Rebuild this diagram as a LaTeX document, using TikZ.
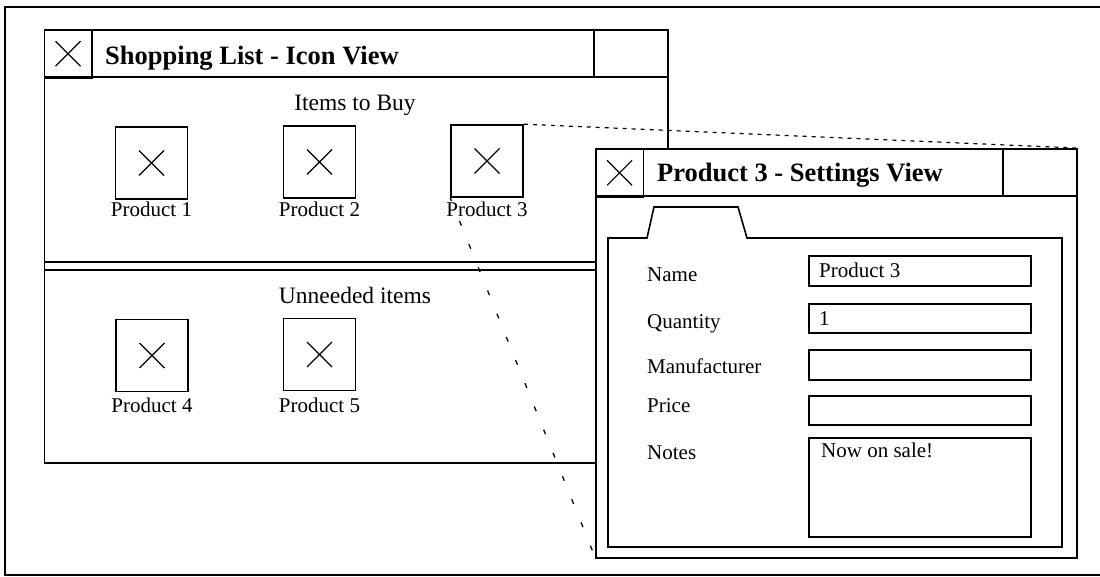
\documentclass[tikz,border=0pt]{standalone}
\usepackage{fontspec}
\setmainfont{Liberation Serif}
\begin{document}
\begin{tikzpicture}[x=1pt,y=-1pt,
  ln/.style={line width=1.6pt},
  xmark/.style={path picture={
      \draw[line width=1.2pt]
        ([shift={(-12.5pt,-12.5pt)}]path picture bounding box.center) -- ++(25pt,25pt)
        ([shift={(-12.5pt,12.5pt)}]path picture bounding box.center) -- ++(25pt,-25pt);}},
  icon/.style={draw, ln, fill=white, minimum width=72pt, minimum height=72pt, inner sep=0pt, xmark},
  closebox/.style={draw, ln, minimum width=47.5pt, minimum height=48pt, inner sep=0pt, anchor=north west, xmark},
  wintitle/.style={font=\fontsize{26.5}{30}\selectfont\bfseries, anchor=base west, inner sep=0pt},
  heading/.style={font=\fontsize{23.5}{27}\selectfont, anchor=base, inner sep=0pt},
  txt/.style={font=\fontsize{21}{25}\selectfont, inner sep=0pt},
  iconlabel/.style={txt, anchor=base, fill=white, inner sep=1pt},
  fieldlabel/.style={txt, anchor=base west},
  field/.style={draw, ln, minimum width=222pt, inner sep=0pt, anchor=north west},
  zoomline/.style={line width=1.2pt, dash pattern=on 4pt off 5pt},
  zoomline2/.style={line width=1.3pt, dash pattern=on 5pt off 20pt}
]
\useasboundingbox (0,0) rectangle (1100,577);

% page frame (open on the right)
\draw[line width=2.5pt] (1100,7) -- (5,7) -- (5,575) -- (1100,575);

% ---------- Shopping list window ----------
\node[draw, ln, fill=white, minimum width=623.5pt, minimum height=433pt,
      inner sep=0pt, anchor=north west] (shop) at (43.5,29) {};
\draw[ln] (43.5,77) -- (667,77);
\draw[ln] (594,29) -- (594,77);
\node[closebox] (shopclose) at (43.5,29) {};
\node[wintitle] (shoptitle) at (105,65) {Shopping List - Icon View};

% splitter between the two sections
\draw[ln] (43.5,262) -- (667,262);
\draw[ln] (43.5,270) -- (667,270);

\node[heading] (buy) at (355,111) {Items to Buy};
\node[heading] (unneeded) at (355,303) {Unneeded items};

\node[icon] (p1) at (151.5,163) {};
\node[icon] (p2) at (319.5,162) {};
\node[icon] (p3) at (487,161) {};
\node[icon] (p4) at (152,355.5) {};
\node[icon] (p5) at (319.5,354.5) {};

% zoom lines from the selected product to its settings window
\coordinate (setNW) at (595,148);
\coordinate (setNE) at (1076,148);
\coordinate (setSW) at (595,557);
\draw[zoomline] (p3.north east) -- (setNE);
\draw[zoomline2] (p3.south west) -- (setSW);

\node[iconlabel] (l1) at (151.5,217) {Product 1};
\node[iconlabel] (l2) at (319.5,217) {Product 2};
\node[iconlabel] (l3) at (487,217) {Product 3};
\node[iconlabel] (l4) at (152,412) {Product 4};
\node[iconlabel] (l5) at (319.5,412) {Product 5};

% ---------- Settings window ----------
\node[draw, ln, fill=white, minimum width=481pt, minimum height=409pt,
      inner sep=0pt, anchor=north west] (setwin) at (setNW) {};
\draw[ln] (595,196) -- (1076,196);
\draw[ln] (1003,148) -- (1003,196);
\node[closebox] (setclose) at (595,148) {};
\node[wintitle] (settitle) at (657,182) {Product 3 - Settings View};

% tabbed panel
\draw[ln] (608,238) -- (647,238) -- (654,207) -- (738,207) -- (747,238)
          -- (1062,238) -- (1062,547) -- (608,547) -- cycle;

\node[fieldlabel] (nName) at (647,282) {Name};
\node[fieldlabel] (nQty)  at (647,328) {Quantity};
\node[fieldlabel] (nMan)  at (647,373) {Manufacturer};
\node[fieldlabel] (nPri)  at (647,412) {Price};
\node[fieldlabel] (nNot)  at (647,459) {Notes};

\node[field, minimum height=30pt] (fName) at (808,255) {};
\node[field, minimum height=29pt] (fQty)  at (808,303) {};
\node[field, minimum height=30pt] (fMan)  at (808,349) {};
\node[field, minimum height=29pt] (fPri)  at (808,395) {};
\node[field, minimum height=99pt] (fNot)  at (808,437) {};

\node[fieldlabel] (vName) at (819,278) {Product 3};
\node[fieldlabel] (vQty)  at (819,325) {1};
\node[fieldlabel] (vNot)  at (821,457) {Now on sale!};
\end{tikzpicture}
\end{document}
